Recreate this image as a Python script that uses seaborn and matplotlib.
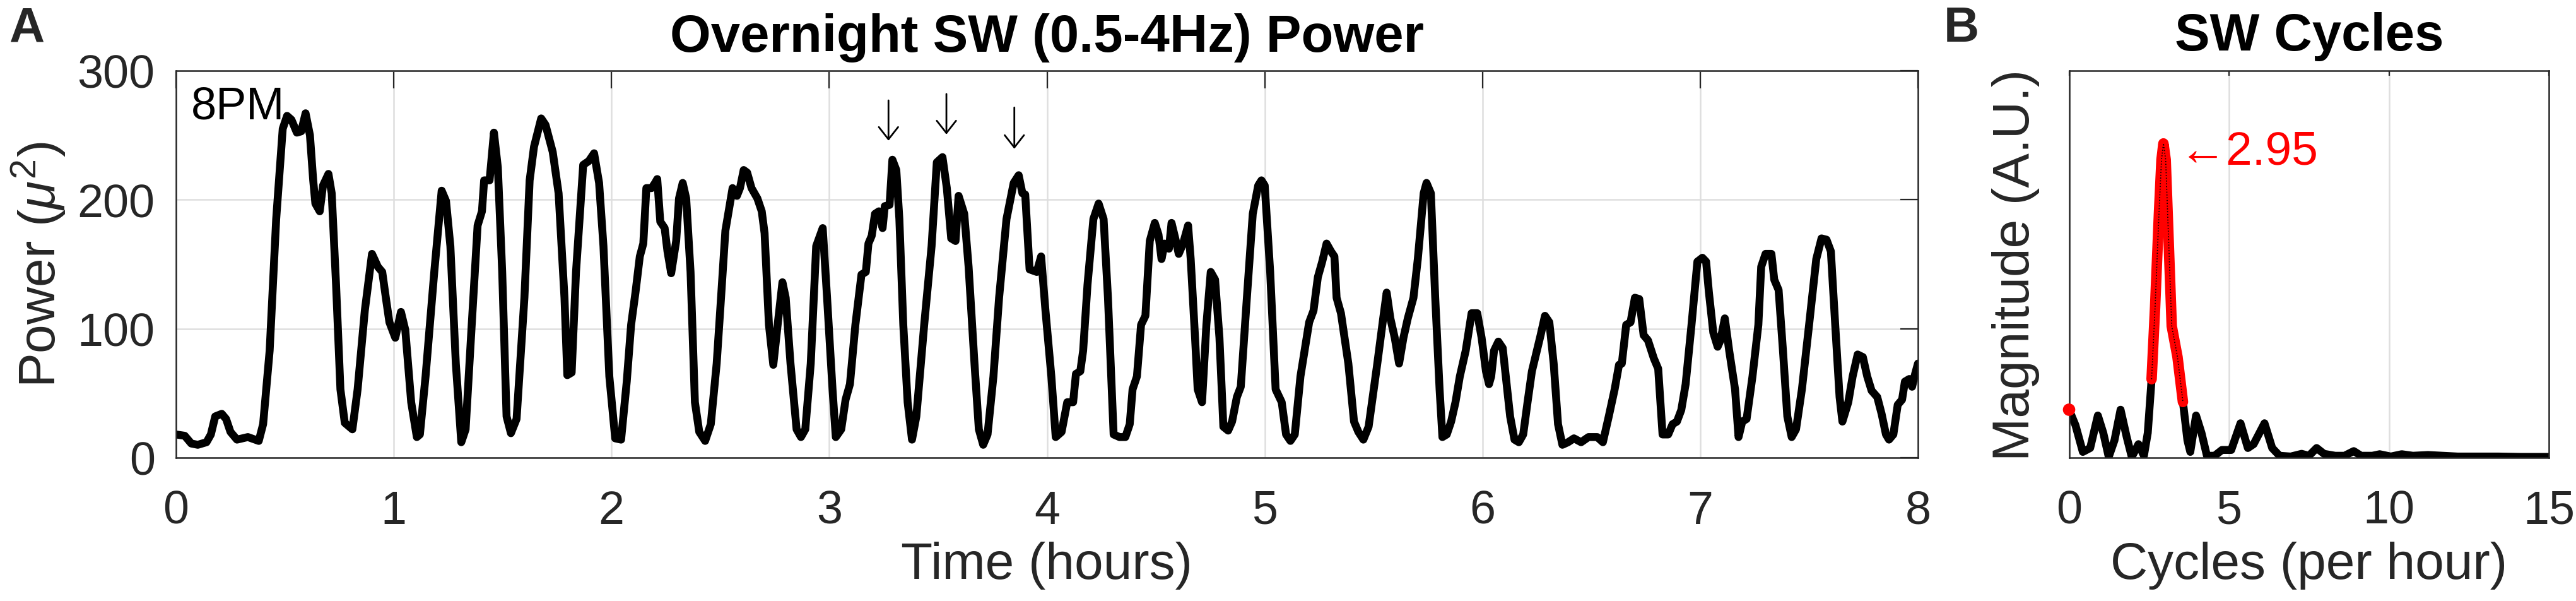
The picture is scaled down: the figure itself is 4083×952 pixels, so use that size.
import numpy as np
import pandas as pd
import matplotlib
matplotlib.use("Agg")
import matplotlib.pyplot as plt
import seaborn as sns

# ---------------- data ----------------
TIME_H = [0.0, 0.04, 0.07, 0.10, 0.14, 0.16, 0.18, 0.21, 0.23, 0.25, 0.28, 0.33, 0.38, 0.40, 0.43, 0.46, 0.49, 0.51, 0.53, 0.555,
          0.575, 0.595, 0.615, 0.63, 0.64, 0.66, 0.675, 0.70, 0.715, 0.735, 0.755, 0.775, 0.81, 0.834, 0.867, 0.90, 0.927, 0.947, 0.967, 0.98,
          1.007, 1.033, 1.053, 1.08, 1.106, 1.12, 1.146, 1.186, 1.22, 1.24, 1.26, 1.285, 1.31, 1.33, 1.358, 1.385, 1.405, 1.415, 1.44, 1.46,
          1.478, 1.498, 1.518, 1.538, 1.564, 1.60, 1.624, 1.644, 1.677, 1.697, 1.73, 1.757, 1.784, 1.797, 1.817, 1.837, 1.87, 1.896, 1.92, 1.943,
          1.963, 1.99, 2.017, 2.044, 2.07, 2.09, 2.11, 2.13, 2.146, 2.16, 2.184, 2.2, 2.21, 2.224, 2.244, 2.257, 2.274, 2.297, 2.31, 2.327,
          2.343, 2.363, 2.383, 2.403, 2.43, 2.456, 2.483, 2.503, 2.523, 2.556, 2.576, 2.59, 2.607, 2.623, 2.643, 2.67, 2.69, 2.703, 2.723, 2.743,
          2.763, 2.785, 2.8, 2.822, 2.85, 2.87, 2.89, 2.915, 2.94, 2.97, 2.99, 3.015, 3.03, 3.055, 3.075, 3.095, 3.12, 3.148, 3.168, 3.18,
          3.195, 3.21, 3.228, 3.245, 3.255, 3.277, 3.29, 3.308, 3.322, 3.34, 3.36, 3.38, 3.4, 3.436, 3.47, 3.494, 3.52, 3.54, 3.56, 3.58,
          3.594, 3.62, 3.64, 3.667, 3.687, 3.707, 3.727, 3.754, 3.78, 3.814, 3.847, 3.87, 3.887, 3.9, 3.92, 3.953, 3.973, 3.993, 4.02, 4.04,
          4.067, 4.093, 4.12, 4.133, 4.153, 4.166, 4.186, 4.213, 4.237, 4.26, 4.28, 4.306, 4.333, 4.36, 4.38, 4.393, 4.413, 4.432, 4.452, 4.472,
          4.495, 4.512, 4.526, 4.54, 4.56, 4.572, 4.592, 4.605, 4.625, 4.648, 4.66, 4.68, 4.692, 4.712, 4.732, 4.752, 4.772, 4.792, 4.81, 4.832,
          4.85, 4.872, 4.89, 4.918, 4.945, 4.97, 4.985, 5.0, 5.025, 5.05, 5.078, 5.098, 5.118, 5.138, 5.164, 5.204, 5.224, 5.244, 5.264, 5.284,
          5.304, 5.32, 5.33, 5.35, 5.384, 5.41, 5.43, 5.453, 5.477, 5.517, 5.544, 5.56, 5.577, 5.597, 5.617, 5.637, 5.657, 5.683, 5.703, 5.73,
          5.743, 5.763, 5.783, 5.803, 5.816, 5.836, 5.856, 5.876, 5.896, 5.923, 5.95, 5.976, 5.996, 6.016, 6.03, 6.04, 6.053, 6.073, 6.093, 6.107,
          6.127, 6.147, 6.167, 6.187, 6.207, 6.227, 6.247, 6.267, 6.287, 6.307, 6.327, 6.347, 6.367, 6.393, 6.42, 6.453, 6.487, 6.527, 6.553, 6.58,
          6.607, 6.627, 6.64, 6.66, 6.68, 6.7, 6.72, 6.74, 6.76, 6.787, 6.807, 6.827, 6.853, 6.873, 6.893, 6.913, 6.933, 6.96, 6.987, 7.01,
          7.027, 7.04, 7.06, 7.08, 7.093, 7.113, 7.133, 7.16, 7.176, 7.193, 7.213, 7.24, 7.267, 7.28, 7.3, 7.327, 7.34, 7.36, 7.38, 7.4,
          7.42, 7.44, 7.467, 7.5, 7.533, 7.557, 7.58, 7.6, 7.62, 7.64, 7.653, 7.68, 7.7, 7.723, 7.747, 7.767, 7.787, 7.813, 7.833, 7.853,
          7.867, 7.887, 7.907, 7.927, 7.94, 7.96, 7.973, 7.987, 8.0]
POWER = [18, 17, 11, 10, 12, 18, 32, 34, 30, 20, 14, 16, 13, 26, 83, 185, 255, 265, 262, 252,
         253, 267, 250, 215, 197, 191, 211, 220, 205, 134, 53, 27, 22, 53, 114, 158, 148, 144, 120, 105,
         93, 113, 99, 43, 16, 18, 63, 144, 207, 199, 164, 73, 12, 22, 103, 180, 191, 215, 215, 252,
         225, 144, 32, 19, 30, 124, 215, 241, 263, 258, 237, 205, 124, 64, 66, 144, 227, 230, 236, 213,
         164, 63, 15, 14, 59, 103, 128, 156, 166, 209, 209, 213, 216, 183, 178, 160, 143, 168, 201, 213,
         201, 144, 43, 20, 13, 26, 73, 124, 176, 209, 203, 209, 223, 221, 209, 201, 191, 174, 103, 72,
         103, 136, 124, 73, 22, 16, 22, 73, 164, 178, 124, 53, 16, 22, 45, 57, 103, 142, 144, 166,
         172, 189, 191, 178, 195, 196, 231, 223, 185, 103, 43, 14, 32, 103, 164, 229, 233, 209, 170, 168,
         203, 189, 148, 73, 22, 10, 18, 63, 124, 185, 213, 219, 205, 204, 146, 144, 156, 114, 63, 16,
         20, 43, 43, 65, 67, 83, 134, 185, 197, 185, 124, 18, 16, 16, 26, 53, 63, 103, 110, 168,
         182, 173, 154, 166, 162, 182, 168, 158, 166, 180, 154, 93, 53, 43, 103, 144, 138, 93, 24, 21,
         28, 47, 55, 124, 189, 211, 215, 211, 144, 53, 43, 18, 13, 18, 63, 105, 114, 140, 152, 166,
         160, 156, 124, 112, 73, 28, 20, 14, 24, 73, 108, 128, 108, 93, 73, 93, 108, 124, 154, 205,
         213, 205, 124, 53, 16, 18, 28, 43, 63, 83, 112, 112, 93, 67, 57, 63, 83, 90, 85, 63,
         32, 14, 12, 18, 43, 67, 81, 95, 110, 105, 73, 26, 10, 12, 15, 12, 16, 16, 12, 32,
         53, 72, 73, 103, 105, 124, 123, 95, 91, 77, 69, 18, 18, 26, 28, 37, 57, 103, 152, 155,
         152, 128, 97, 86, 91, 108, 83, 53, 16, 28, 30, 63, 103, 148, 158, 158, 138, 130, 83, 32,
         16, 22, 53, 103, 154, 170, 169, 160, 103, 47, 28, 43, 63, 80, 78, 63, 52, 47, 34, 18,
         14, 18, 41, 45, 59, 61, 55, 65, 73]

FREQ = [0.0, 0.2, 0.43, 0.66, 0.9, 1.07, 1.24, 1.42, 1.61, 1.8, 1.96, 2.17, 2.34, 2.46, 2.58, 2.69, 2.81, 2.89, 2.95, 3.02,
        3.1, 3.21, 3.39, 3.56, 3.7, 3.79, 3.97, 4.14, 4.31, 4.55, 4.78, 5.07, 5.36, 5.59, 5.77, 6.11, 6.35, 6.58, 6.93, 7.27,
        7.5, 7.74, 7.97, 8.32, 8.61, 8.9, 9.13, 9.48, 9.71, 10.06, 10.4, 10.75, 11.22, 11.68, 12.15, 12.73, 13.42, 14.12, 15.0]
MAG = [12.4, 8.4, 1.5, 2.5, 10.9, 6.4, 0.2, 4.5, 12.4, 5.4, 0.2, 3.5, 0.5, 6.4, 20.3, 39, 63, 77, 81.2, 77,
       59, 34, 26, 14.4, 4.5, 1.5, 10.9, 6.4, 0.5, 0.5, 2, 2, 8.9, 2.5, 3.5, 8.9, 2.5, 0.5, 0.3, 1,
       0.5, 2.5, 1, 0.5, 0.5, 1.7, 0.5, 0.5, 0.9, 0.3, 0.9, 0.5, 0.7, 0.5, 0.3, 0.3, 0.3, 0.2, 0.2]

PEAK_LO, PEAK_HI = 2.58, 3.56
PEAK_TEXT = "\u21902.95"
ARROW_T = [3.272, 3.538, 3.85]
ARROW_TOP = [277, 282, 271.5]
ARROW_TIP = [245.7, 250.6, 239.4]

# ---------------- style ----------------
sns.set_theme(style="white")
plt.rcParams["font.family"] = ["Liberation Sans", "DejaVu Sans"]
plt.rcParams["mathtext.fontset"] = "custom"
plt.rcParams["mathtext.rm"] = "Liberation Sans"
plt.rcParams["mathtext.it"] = "Liberation Sans:italic"
DARK = "#262626"
GRID = "#dedede"

W, H = 4083, 953
fig = plt.figure(figsize=(W / 100, H / 100), dpi=100)
axA = fig.add_axes([279 / W, 1 - 726 / H, 2761 / W, 613 / H])
axB = fig.add_axes([3279.5 / W, 1 - 726 / H, 760.5 / W, 613 / H])

# ---------------- panel A ----------------
dfA = pd.DataFrame({"t": TIME_H, "p": POWER})
sns.lineplot(data=dfA, x="t", y="p", ax=axA, color="black", linewidth=9,
             sort=False, estimator=None, solid_joinstyle="round", solid_capstyle="round")
axA.set_xlim(0, 8)
axA.set_ylim(0, 300)
axA.set_xticks(range(0, 9))
axA.set_yticks([0, 100, 200, 300])
axA.grid(True, color=GRID, linewidth=1.8)
axA.set_axisbelow(True)
axA.tick_params(axis="both", direction="in", length=20, width=1.6, top=True, right=True,
                color=DARK, labelcolor=DARK, labelsize=53)
axA.tick_params(axis="x", pad=36)
axA.tick_params(axis="y", pad=24)
for s in axA.spines.values():
    s.set_color(DARK)
    s.set_linewidth(1.8)
axA.set_title("Overnight SW (0.5-4Hz) Power", fontsize=60, fontweight="bold", pad=22, color="black")
axA.set_xlabel("Time (hours)", fontsize=59, color=DARK)
axA.set_ylabel(r"Power ($\mu^2$)", fontsize=59, color=DARK)
axA.xaxis.set_label_coords(0.5, -0.215)
axA.yaxis.set_label_coords(-0.0619, 0.5)
axA.text(0.07, 263, "8PM", fontsize=52, ha="left", va="baseline", color="black")
for t, top, tip in zip(ARROW_T, ARROW_TOP, ARROW_TIP):
    axA.annotate("", xy=(t, tip), xytext=(t, top),
                 arrowprops=dict(arrowstyle="->,head_length=0.7,head_width=0.55", color="black",
                                 lw=2, shrinkA=0, shrinkB=0, mutation_scale=20))

# ---------------- panel B ----------------
dfB = pd.DataFrame({"f": FREQ, "m": MAG})
sns.lineplot(data=dfB, x="f", y="m", ax=axB, color="black", linewidth=9,
             sort=False, estimator=None, solid_joinstyle="round", solid_capstyle="round")
pk = dfB[(dfB["f"] >= PEAK_LO) & (dfB["f"] <= PEAK_HI)]
sns.lineplot(data=pk, x="f", y="m", ax=axB, color="red", linewidth=12,
             sort=False, estimator=None, solid_joinstyle="round", solid_capstyle="round")
axB.plot(pk["f"], pk["m"], color="black", linewidth=1.2, linestyle=":")
sns.scatterplot(x=[FREQ[0]], y=[MAG[0]], ax=axB, color="red", s=200, edgecolor="none", zorder=5, clip_on=False)
axB.set_xlim(0, 15)
axB.set_ylim(0, 100)
axB.set_xticks([0, 5, 10, 15])
axB.set_yticks([])
axB.grid(True, axis="x", color=GRID, linewidth=1.8)
axB.set_axisbelow(True)
axB.tick_params(axis="x", direction="in", length=6, width=1.6, top=True, color=DARK,
                labelcolor=DARK, labelsize=53, pad=36)
for s in axB.spines.values():
    s.set_color(DARK)
    s.set_linewidth(1.8)
axB.set_title("SW Cycles", fontsize=60, fontweight="bold", pad=24, color="black")
axB.set_xlabel("Cycles (per hour)", fontsize=59, color=DARK)
axB.set_ylabel("Magnitude (A.U.)", fontsize=59, color=DARK)
axB.xaxis.set_label_coords(0.5, -0.215)
axB.yaxis.set_label_coords(-0.0611, 0.5)
axB.text(3.44, 75.9, PEAK_TEXT, color="red", fontsize=54, ha="left", va="baseline")

# panel letters
fig.text(14 / W, 1 - 66 / H, "A", fontsize=56, fontweight="bold", ha="left", va="baseline")
fig.text(3081 / W, 1 - 66 / H, "B", fontsize=56, fontweight="bold", ha="left", va="baseline")

fig.savefig("out.png", dpi=100)
